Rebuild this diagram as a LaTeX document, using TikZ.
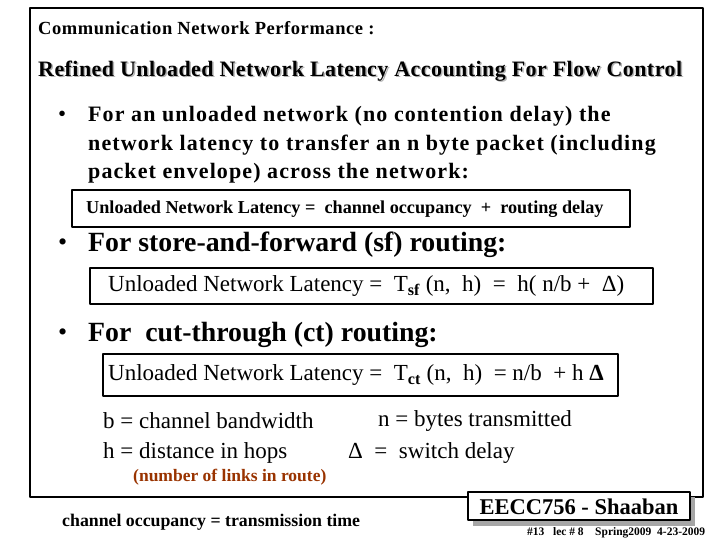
\documentclass[tikz,border=0pt]{standalone}
\usepackage{fontspec}
\setmainfont{Liberation Serif}
\usetikzlibrary{positioning}
\definecolor{brownred}{RGB}{153,51,0}
\newcommand{\fs}[1]{\fontsize{#1}{#1}\selectfont}
\tikzset{
  txt/.style={anchor=west,inner sep=0pt},
  eqbox/.style={draw,line width=1.6pt,inner sep=0pt}
}
\begin{document}
\begin{tikzpicture}[x=1pt,y=-1pt,line cap=round,line join=round]
  \useasboundingbox (0,0) rectangle (720,540);
  % slide frame
  \draw [line width=2.6pt] (30,8) rectangle (703,497);
  % header
  \node[txt,font=\fs{18.5}\bfseries\addfontfeature{LetterSpace=3}] (head) at (38,28) {Communication Network Performance :};
  \node[txt,font=\fs{22}\bfseries\addfontfeature{LetterSpace=2},text=gray!60] at (39.5,72.5) {Refined Unloaded Network Latency Accounting For Flow Control};
  \node[txt,font=\fs{22}\bfseries\addfontfeature{LetterSpace=2}] (title) at (38,71) {Refined Unloaded Network Latency Accounting For Flow Control};
  % first bullet
  \node[txt,font=\fs{23}] (b1) at (58,116) {\textbullet};
  \node[txt,font=\fs{22}\bfseries\addfontfeature{LetterSpace=5}] (l1) at (88,116) {For an unloaded network (no contention delay) the};
  \node[txt,font=\fs{22}\bfseries\addfontfeature{LetterSpace=5}] (l2) at (88,145) {network latency to transfer an n byte packet (including};
  \node[txt,font=\fs{22}\bfseries\addfontfeature{LetterSpace=5}] (l3) at (88,173) {packet envelope) across the network:};
  \draw [eqbox] (72,190) rectangle (630,227);
  \node[txt,font=\fs{18.2}\bfseries] (eq1) at (86,209) {Unloaded Network Latency =\ \ channel occupancy\ \ +\ \ routing delay};
  % second bullet
  \node[txt,font=\fs{26}] (b2) at (58,245) {\textbullet};
  \node[txt,font=\fs{27.8}\bfseries] (sf) at (88,245) {For store-and-forward (sf) routing:};
  \draw [eqbox] (90,268) rectangle (653,304);
  \node[txt,font=\fs{23}] (eq2) at (108,286) {Unloaded Network Latency =\ \ T\textsubscript{\bfseries sf} (n,\ \ h)\ \ =\ \ h( n/b +\ \ Δ)};
  % third bullet
  \node[txt,font=\fs{26}] (b3) at (58,335) {\textbullet};
  \node[txt,font=\fs{27.8}\bfseries] (ct) at (88,335) {For\ \ cut-through (ct) routing:};
  \draw [eqbox] (103,354) rectangle (618,396);
  \node[txt,font=\fs{23}] (eq3) at (108,375) {Unloaded Network Latency =\ \ T\textsubscript{\bfseries ct} (n,\ \ h)\ \ = n/b\ \ + h \textbf{Δ}};
  % definitions
  \node[txt,font=\fs{23}] (bw) at (103,421) {b = channel bandwidth};
  \node[txt,font=\fs{23}] (hops) at (103,453) {h = distance in hops};
  \node[txt,font=\fs{23}] (nb) at (378,421) {n = bytes transmitted};
  \node[txt,font=\fs{23}] (sw) at (348,453) {Δ\ \ =\ \ switch delay};
  \node[txt,font=\fs{17.5}\bfseries,text=brownred] (links) at (133,477) {(number of links in route)};
  \node[txt,font=\fs{17.8}\bfseries] (occ) at (62,522) {channel occupancy = transmission time};
  % footer
  \fill [gray!70] (473,497) rectangle (695,526);
  \draw [line width=1.6pt,fill=white] (468,492) rectangle (690,520);
  \node[font=\fs{22.5}\bfseries] (auth) at (579,507) {EECC756 - Shaaban};
  \node[txt,font=\fs{11.5}\bfseries] (foot) at (527,533) {\#13\ \ \ lec \# 8\ \ \ \ Spring2009\ \ 4-23-2009};
\end{tikzpicture}
\end{document}
